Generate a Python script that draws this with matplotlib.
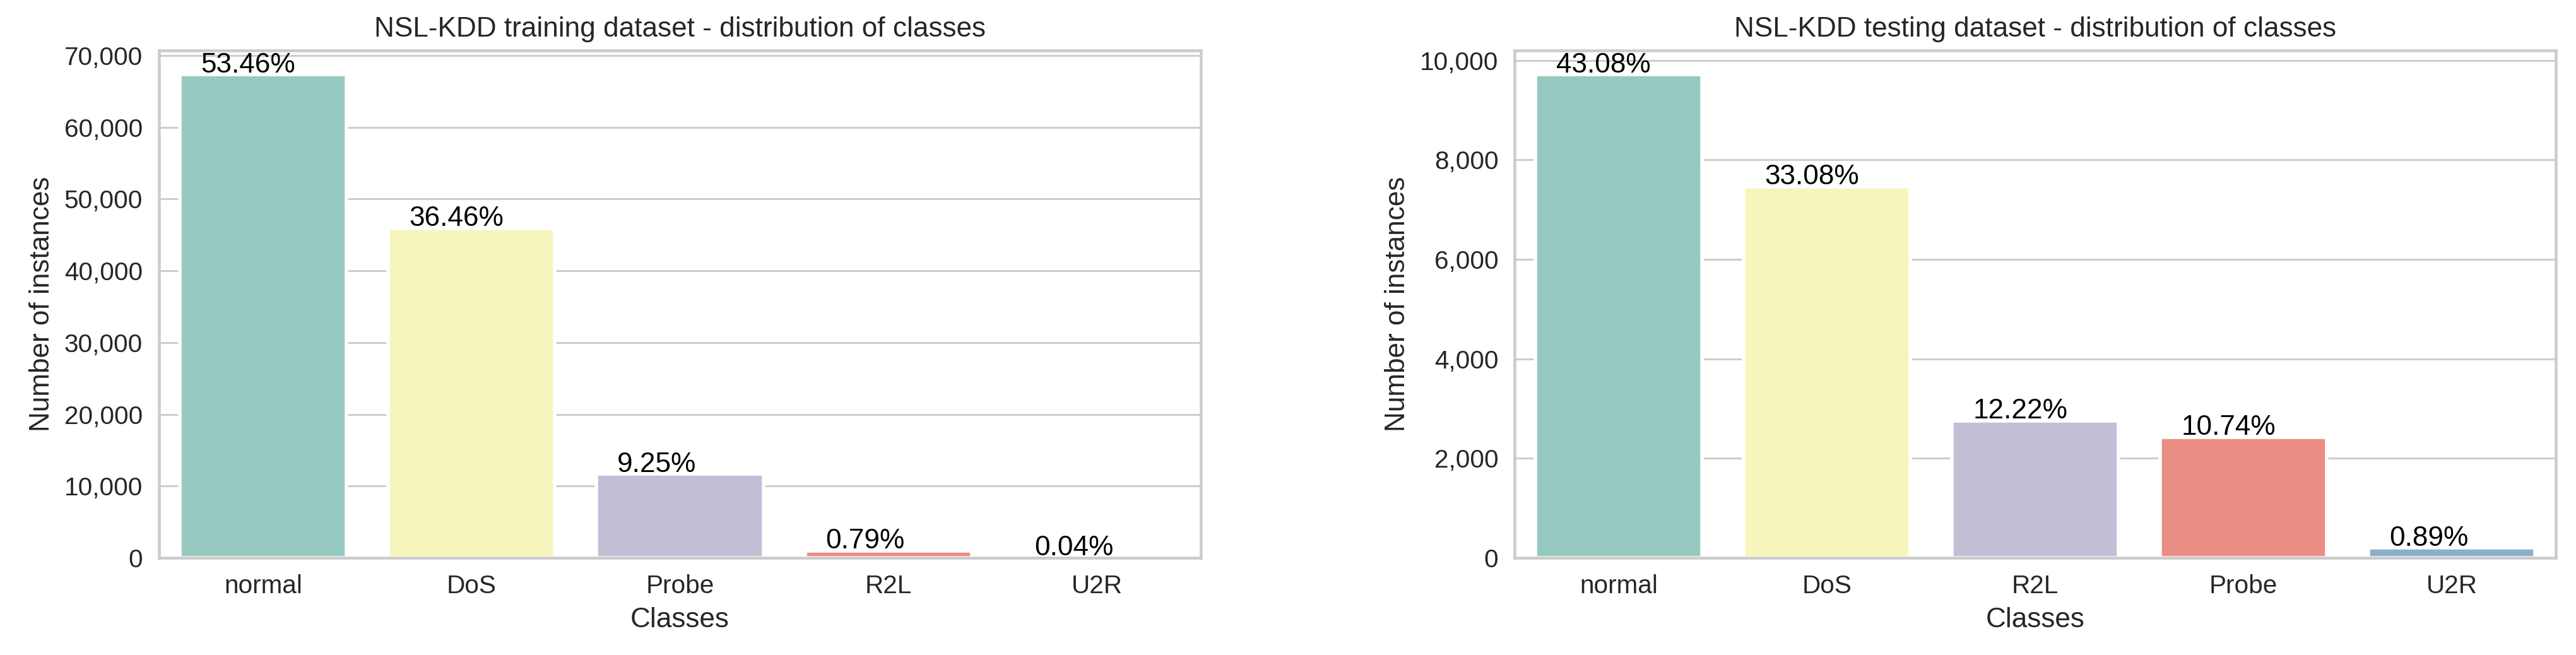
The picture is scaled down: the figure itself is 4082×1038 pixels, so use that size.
import numpy as np
import matplotlib
matplotlib.use("Agg")
import matplotlib.pyplot as plt
import matplotlib.ticker as mticker
import seaborn as sns

# class counts (NSL-KDD)
train_classes = ["normal", "DoS", "Probe", "R2L", "U2R"]
train_counts = [67343, 45927, 11656, 995, 52]

test_classes = ["normal", "DoS", "R2L", "Probe", "U2R"]
test_counts = [9711, 7458, 2754, 2421, 200]

sns.set_style("whitegrid")
plt.rcParams['font.family'] = ['Liberation Sans', 'DejaVu Sans']
plt.rcParams['text.color'] = '.15'
plt.rcParams['axes.labelcolor'] = '.15'
plt.rcParams['xtick.color'] = '.15'
plt.rcParams['ytick.color'] = '.15'

DPI = 265
fig = plt.figure(figsize=(4082 / DPI, 1038 / DPI), dpi=DPI)

colors = sns.color_palette("Set3", 5, desat=0.75)


def draw(ax, classes, counts, title):
    x = np.arange(len(classes))
    bars = ax.bar(x, counts, width=0.8, color=colors, edgecolor="white", linewidth=1.5, zorder=2)
    ax.set_xticks(x)
    ax.set_xticklabels(classes, fontsize=11)
    ax.set_xlim(-0.5, len(classes) - 0.5)
    ax.grid(False, axis="x")
    ax.yaxis.set_major_formatter(mticker.FuncFormatter(lambda v, p: f"{int(v):,}"))
    ax.tick_params(axis="y", labelsize=11)
    ax.set_xlabel("Classes", fontsize=12)
    ax.set_ylabel("Number of instances", fontsize=12)
    ax.set_title(title, fontsize=12)
    ax.set_axisbelow(True)
    total = sum(counts)
    for b in bars:
        h = b.get_height()
        ax.annotate(f"{100 * h / total:.2f}%", (b.get_x() + 0.1, h),
                    xytext=(0, 1), textcoords="offset points",
                    fontsize=12, color="black", va="baseline")
    for s in ax.spines.values():
        s.set_color("#cccccc")
        s.set_linewidth(1.25)


ax1 = fig.add_axes([0.0617, 0.1484, 0.4045, 0.7745])
draw(ax1, train_classes, train_counts, "NSL-KDD training dataset - distribution of classes")

ax2 = fig.add_axes([0.588, 0.1484, 0.4042, 0.7745])
draw(ax2, test_classes, test_counts, "NSL-KDD testing dataset - distribution of classes")

fig.savefig("out.png", dpi=DPI)
